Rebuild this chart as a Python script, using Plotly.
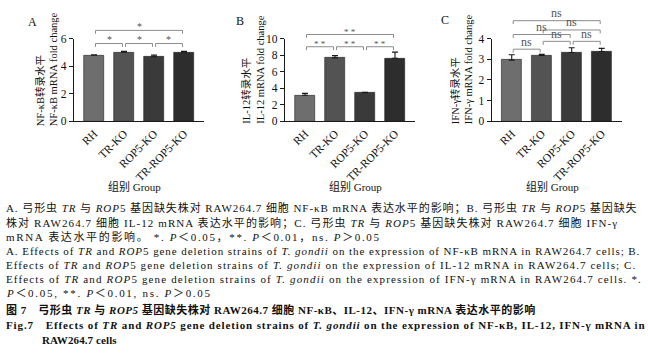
import plotly.graph_objects as go

# ---------------- data ----------------
categories = ["RH", "TR-KO", "ROP5-KO", "TR-ROP5-KO"]

nfkb_mean = [4.80, 5.01, 4.68, 5.01]
nfkb_sd = [0.02, 0.07, 0.12, 0.07]

il12_mean = [3.15, 7.67, 3.45, 7.63]
il12_sd = [0.22, 0.27, 0.05, 0.74]

ifng_mean = [2.96, 3.19, 3.33, 3.38]
ifng_sd = [0.26, 0.05, 0.23, 0.15]

nfkb_ticks = [0, 2, 4, 6]
il12_ticks = [0, 2, 4, 6, 8, 10]
ifng_ticks = [0, 1, 2, 3, 4]

nfkb_sig = [(0, 3, "*"), (0, 1, "*"), (1, 2, "*"), (2, 3, "*")]
il12_sig = [(0, 3, "* *"), (0, 1, "* *"), (1, 2, "* *"), (2, 3, "* *")]
ifng_sig = [(0, 3, "ns"), (1, 3, "ns"), (0, 2, "ns"), (1, 2, "ns"), (2, 3, "ns"), (0, 1, "ns")]

ytitles = [
    ("NF-κB转录水平", "NF-κB mRNA fold change"),
    ("IL-12转录水平", "IL-12 mRNA fold change"),
    ("IFN-γ转录水平", "IFN-γ mRNA fold change"),
]
panel_letters = ["A", "B", "C"]
xtitle = "组别 Group"

caption_lines = [
    "A. 弓形虫 <i>TR</i> 与 <i>ROP</i>5 基因缺失株对 RAW264.7 细胞 NF-κB mRNA 表达水平的影响；B. 弓形虫 <i>TR</i> 与 <i>ROP</i>5 基因缺失",
    "株对 RAW264.7 细胞 IL-12 mRNA 表达水平的影响；C. 弓形虫 <i>TR</i> 与 <i>ROP</i>5 基因缺失株对 RAW264.7 细胞 IFN-γ",
    "mRNA 表达水平的影响。 *. <i>P</i>＜0.05，**. <i>P</i>＜0.01，ns. <i>P</i>＞0.05",
    "A. Effects of <i>TR</i> and <i>ROP</i>5 gene deletion strains of <i>T. gondii</i> on the expression of NF-κB mRNA in RAW264.7 cells; B.",
    "Effects of <i>TR</i> and <i>ROP</i>5 gene deletion strains of <i>T. gondii</i> on the expression of IL-12 mRNA in RAW264.7 cells; C.",
    "Effects of <i>TR</i> and <i>ROP</i>5 gene deletion strains of <i>T. gondii</i> on the expression of IFN-γ mRNA in RAW264.7 cells. *.",
    "<i>P</i>＜0.05, **. <i>P</i>＜0.01, ns. <i>P</i>＞0.05",
    "<b>图 7　弓形虫 <i>TR</i> 与 <i>ROP5</i> 基因缺失株对 RAW264.7 细胞 NF-κB、IL-12、IFN-γ mRNA 表达水平的影响</b>",
    "<b>Fig.7　Effects of <i>TR</i> and <i>ROP5</i> gene deletion strains of <i>T. gondii</i> on the expression of NF-κB, IL-12, IFN-γ mRNA in</b>",
    "<b>RAW264.7 cells</b>",
]

# ---------------- layout / style ----------------
W, H = 648, 354
SERIF = "Liberation Serif, Times New Roman, Noto Sans CJK SC, serif"
bar_colors = ["#6e6e6e", "#535353", "#3a3a3a", "#2d2d2d"]
axis_color = "#1a1a1a"
bracket_color = "#8c8c8c"

xrange = [-0.667, 3.667]
x_px = [(74, 204), (285, 415), (491.7, 621.7)]
y_px = (119.3, 33.8)  # bottom, top of axes
xdoms = [[a / W, b / W] for a, b in x_px]
ydom = [1 - y_px[0] / H, 1 - y_px[1] / H]

means = [nfkb_mean, il12_mean, ifng_mean]
sds = [nfkb_sd, il12_sd, ifng_sd]
ticks = [nfkb_ticks, il12_ticks, ifng_ticks]
sigs = [nfkb_sig, il12_sig, ifng_sig]
sig_levels = [[6.6, 5.65, 5.65, 5.65],
              [10.5, 9.02, 9.02, 9.02],
              [4.87, 4.42, 4.2, 3.87, 3.87, 3.49]]
sig_font = [10, 9, 12]
sig_shift = [-4, -4, -1.5]
ytitle_x_px = [46.5, 253, 461.5]
ytitle_y_px = 66
letter_px = [(32, 17), (240, 16), (445, 15)]
xtitle_px = [(134, 187), (355, 187), (552, 187)]
caption_y_px = [209, 224, 239, 254, 268.5, 283, 297.5, 314.5, 330.5, 346]
caption_x_px = [4, 4, 4, 4, 4, 4, 4, 4, 4, 40]
caption_size = [11] * 10
caption_ls = [0.93, 1.08, 1.65, 0.93, 1.09, 1.15, 1.7, 0.5, 0.87, 0.1]


def xp(k, x):
    d0, d1 = xdoms[k]
    return d0 + (x - xrange[0]) / (xrange[1] - xrange[0]) * (d1 - d0)


def yp(k, y):
    ymax = ticks[k][-1]
    return ydom[0] + y / ymax * (ydom[1] - ydom[0])


fig = go.Figure()
shapes = []
annotations = []

for k in range(3):
    sx = "" if k == 0 else str(k + 1)
    fig.add_trace(go.Bar(
        x=categories, y=means[k],
        xaxis="x" + sx, yaxis="y" + sx,
        width=0.667,
        marker=dict(color=bar_colors, line=dict(color="#222222", width=0.6)),
        error_y=dict(type="data", array=sds[k], arrayminus=[0] * len(sds[k]),
                     symmetric=False, color=axis_color, thickness=1.1, width=3),
        showlegend=False, hoverinfo="skip",
    ))
    xa = dict(domain=xdoms[k], range=xrange, type="category",
              anchor="y" + sx, showline=True, linecolor=axis_color, linewidth=1.3,
              ticks="", tickangle=-45, showgrid=False,
              tickfont=dict(family=SERIF, size=11.5, color="#111"))
    ya = dict(domain=ydom, range=[0, ticks[k][-1]], anchor="x" + sx,
              tickvals=ticks[k], ticks="outside", ticklen=4, tickwidth=1.2,
              tickcolor=axis_color, showline=True, linecolor=axis_color,
              linewidth=1.3, showgrid=False, zeroline=False,
              tickfont=dict(family=SERIF, size=11.5, color="#111"))
    fig.update_layout(**{"xaxis" + sx: xa, "yaxis" + sx: ya})

    # significance brackets
    for (i, j, lab), lev in zip(sigs[k], sig_levels[k]):
        x0 = xp(k, i + 0.05)
        x1 = xp(k, j - 0.05)
        y0 = yp(k, lev)
        dy = 3.5 / H
        shapes.append(dict(type="path", xref="paper", yref="paper",
                           path=f"M{x0},{y0 - dy} L{x0},{y0} L{x1},{y0} L{x1},{y0 - dy}",
                           line=dict(color=bracket_color, width=1)))
        annotations.append(dict(x=(x0 + x1) / 2, y=y0, xref="paper", yref="paper",
                                text=lab, showarrow=False, yanchor="bottom",
                                xanchor="center", yshift=sig_shift[k],
                                font=dict(family=SERIF, size=sig_font[k], color="#555")))

    # y title (two lines)
    l1, l2 = ytitles[k]
    annotations.append(dict(x=ytitle_x_px[k] / W, y=1 - ytitle_y_px / H,
                            xref="paper", yref="paper", text=l1 + "<br>" + l2,
                            textangle=-90, showarrow=False, align="left",
                            xanchor="center", yanchor="middle",
                            font=dict(family=SERIF, size=10.5, color="#111")))
    # panel letter
    lx, ly = letter_px[k]
    annotations.append(dict(x=lx / W, y=1 - ly / H, xref="paper", yref="paper",
                            text=panel_letters[k], showarrow=False,
                            xanchor="center", yanchor="middle",
                            font=dict(family=SERIF, size=12, color="#111")))
    # x title
    tx, ty = xtitle_px[k]
    annotations.append(dict(x=tx / W, y=1 - ty / H, xref="paper", yref="paper",
                            text=xtitle, showarrow=False,
                            xanchor="center", yanchor="middle",
                            font=dict(family=SERIF, size=11, color="#111")))

for txt, cy, cx, cs, ls in zip(caption_lines, caption_y_px, caption_x_px,
                               caption_size, caption_ls):
    annotations.append(dict(x=cx / W, y=1 - cy / H, xref="paper", yref="paper",
                            text=f'<span style="letter-spacing:{ls}px">{txt}</span>',
                            showarrow=False, xanchor="left",
                            yanchor="middle", align="left",
                            font=dict(family=SERIF, size=cs, color="#111")))

fig.update_layout(width=W, height=H, margin=dict(l=0, r=0, t=0, b=0),
                  paper_bgcolor="white", plot_bgcolor="white",
                  shapes=shapes, annotations=annotations, bargap=0)

fig.write_html("out.html")
